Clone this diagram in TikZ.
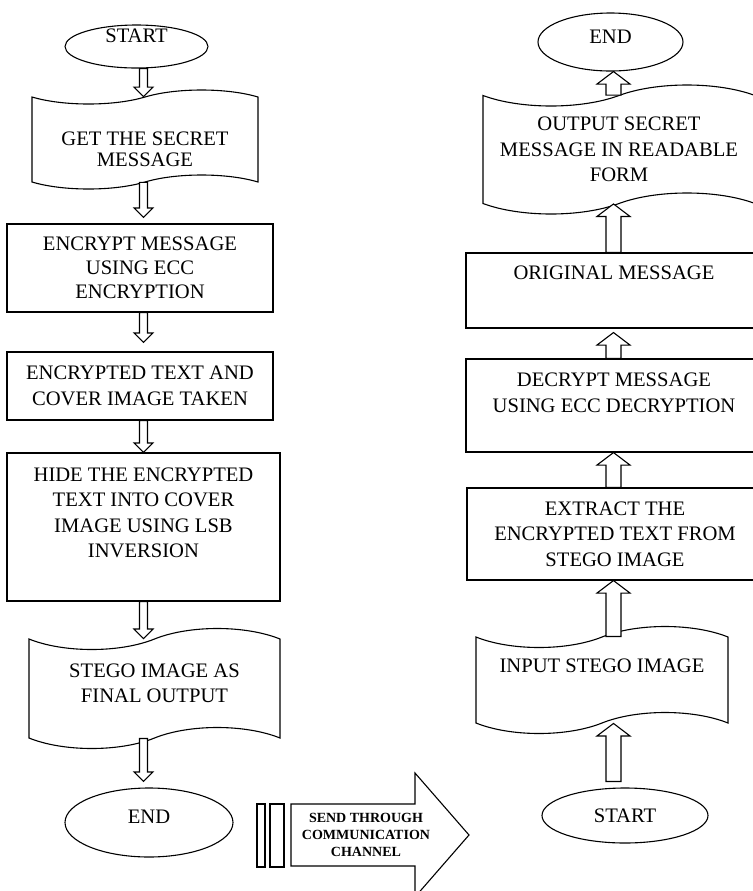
\documentclass[tikz,border=0pt]{standalone}
\usepackage{fontspec}
\setmainfont{Liberation Serif}
\usetikzlibrary{shapes.geometric,shapes.symbols,calc}

\tikzset{
  flowline/.style={line width=0.55pt, fill=white},
  terminal/.style={draw, line width=0.55pt, ellipse, inner sep=0pt},
  process/.style={draw, line width=0.55pt, rectangle, inner sep=2pt, align=center},
  tapebox/.style={draw, line width=0.55pt, tape, inner sep=2pt, align=center, tape bend height=10.5pt},
  lift/.style={align=center, yshift=#1},
}

% hollow arrows of the two columns
\newcommand{\flowdown}[2]{%
  \draw[flowline] let \p1=(#1), \p2=(#2) in
    (\x1-2pt,\y1) -- (\x1-2pt,\y2+4.75pt) -- (\x1-4.75pt,\y2+4.75pt) -- (\x1,\y2)
    -- (\x1+4.75pt,\y2+4.75pt) -- (\x1+2pt,\y2+4.75pt) -- (\x1+2pt,\y1) -- cycle;}
\newcommand{\flowup}[2]{%
  \draw[flowline] let \p1=(#1), \p2=(#2) in
    (\x1-3.75pt,\y1) -- (\x1-3.75pt,\y2-6.25pt) -- (\x1-8.25pt,\y2-6.25pt) -- (\x1,\y2)
    -- (\x1+8.25pt,\y2-6.25pt) -- (\x1+3.75pt,\y2-6.25pt) -- (\x1+3.75pt,\y1) -- cycle;}

\begin{document}
\begin{tikzpicture}[x=0.5pt, y=-0.5pt, font=\fontsize{10.3}{12.75}\selectfont]
  \useasboundingbox (0,0) rectangle (753,891);
  \clip (0,0) rectangle (753,891);
  \coordinate (lcol) at (143.5,0);
  \coordinate (rcol) at (613.5,0);

  % hiding side
  \node[terminal, minimum width=71.5pt, minimum height=21.5pt, label={[lift=5.5pt]center:START}] (lstart) at (136.5,46.5) {};
  \node[tapebox, tape bend height=7pt, minimum width=113pt, minimum height=49.5pt,
    label={[lift=-4.75pt, font=\fontsize{10.3}{10.5}\selectfont]center:{GET THE SECRET\\MESSAGE}}] (lget) at (145,139.5) {};
  \node[process, minimum width=133pt, minimum height=44pt, font=\fontsize{10.3}{12}\selectfont] (lenc) at (140,268) {ENCRYPT MESSAGE\\USING ECC\\ENCRYPTION};
  \node[process, minimum width=133pt, minimum height=34pt] (ltake) at (140,386) {ENCRYPTED TEXT AND\\COVER IMAGE TAKEN};
  \node[process, minimum width=136.5pt, minimum height=74pt,
    label={[lift=7pt]center:{HIDE THE ENCRYPTED\\TEXT INTO COVER\\IMAGE USING LSB\\INVERSION}}] (lhide) at (143.5,527) {};
  \node[tapebox, minimum width=125.5pt, minimum height=60pt,
    label={[lift=2.5pt]center:{STEGO IMAGE AS\\FINAL OUTPUT}}] (lstego) at (154.5,688.5) {};
  \node[terminal, minimum width=84pt, minimum height=34.5pt, label={[lift=2.75pt]center:END}] (lend) at (149,822.5) {};

  % extracting side
  \node[terminal, minimum width=72.5pt, minimum height=29pt, label={[lift=2.5pt]center:END}] (rend) at (610.5,42) {};
  \node[tapebox, minimum width=136pt, minimum height=64.5pt] (rout) at (619,149.5) {OUTPUT SECRET\\MESSAGE IN READABLE\\FORM};
  \node[process, minimum width=148pt, minimum height=37.5pt, label={[lift=8.75pt]center:ORIGINAL MESSAGE}] (rorig) at (614,290.5) {};
  \node[process, minimum width=148pt, minimum height=46.5pt,
    label={[lift=6.25pt]center:{DECRYPT MESSAGE\\USING ECC DECRYPTION}}] (rdec) at (614,405.5) {};
  \node[process, minimum width=148pt, minimum height=46pt] (rext) at (615,534) {EXTRACT THE\\ENCRYPTED TEXT FROM\\STEGO IMAGE};
  \node[tapebox, minimum width=126pt, minimum height=53.5pt, label={[lift=7pt]center:INPUT STEGO IMAGE}] (rin) at (602,680) {};
  \node[terminal, minimum width=83pt, minimum height=27.5pt] (rstart) at (625,815.5) {START};

  % arrows
  \flowdown{lcol |- lstart.south}{lcol |- lget.north}
  \flowdown{lcol |- lget.south}{$(lcol |- lenc.north)+(0,-6)$}
  \flowdown{lcol |- lenc.south}{$(lcol |- ltake.north)+(0,-9)$}
  \flowdown{lcol |- ltake.south}{lcol |- lhide.north}
  \flowdown{lcol |- lhide.south}{lcol |- lstego.north}
  \flowdown{lcol |- lstego.south}{$(lcol |- lend.north)+(0,-6)$}
  \flowup{$(rcol |- rstart.north)+(0,-6)$}{rcol |- rin.south}
  \flowup{rcol |- rin.north}{rcol |- rext.south}
  \flowup{rcol |- rext.north}{rcol |- rdec.south}
  \flowup{rcol |- rdec.north}{$(rcol |- rorig.south)+(0,4)$}
  \flowup{rcol |- rorig.north}{rcol |- rout.south}
  \flowup{rcol |- rout.north}{rcol |- rend.south}

  % send arrow
  \draw[line width=0.55pt] (257,804) rectangle (265,867);
  \draw[line width=0.55pt] (270,804) rectangle (284,867);
  \draw[line width=0.55pt] (291,804) -- (415,804) -- (415,773) -- (469,835) -- (415,897) -- (415,866) -- (291,866) -- cycle;
  \node[font=\bfseries\fontsize{7}{8.5}\selectfont, align=center] (send) at (366,835) {SEND THROUGH\\COMMUNICATION\\CHANNEL};
\end{tikzpicture}
\end{document}
